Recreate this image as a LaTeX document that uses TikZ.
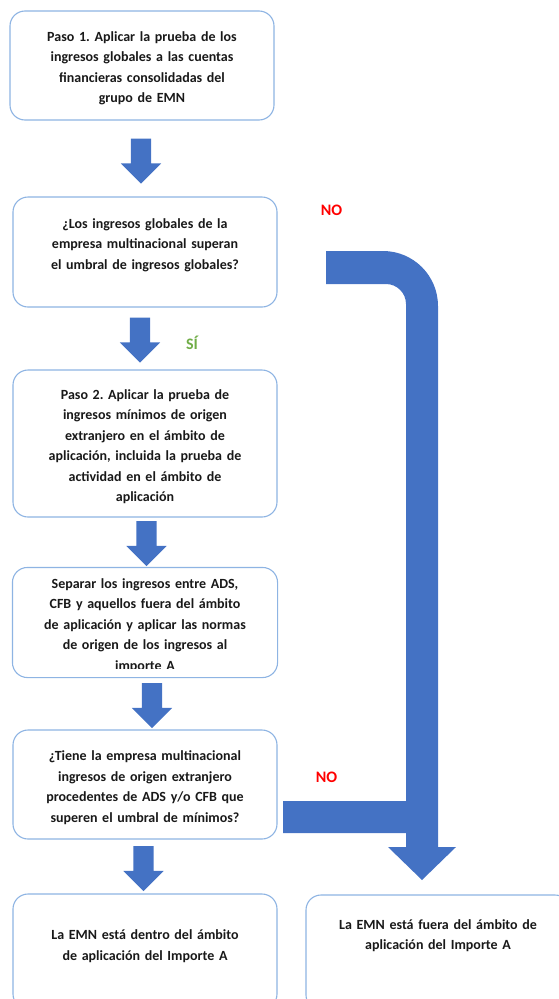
\documentclass[tikz,border=0pt]{standalone}
\usepackage{fontspec}
\setmainfont{Carlito}
\usetikzlibrary{shapes.arrows}
\frenchspacing

\definecolor{boxblue}{HTML}{8EB4E3}
\definecolor{arrowblue}{HTML}{4472C4}
\definecolor{nored}{HTML}{FF0000}
\definecolor{sigreen}{HTML}{70AD47}

\begin{document}
\begin{tikzpicture}[x=1pt, y=-1pt,
        box/.style={draw=boxblue, line width=1.1pt, rounded corners=15pt, fill=white,
            minimum width=264pt, minimum height=109pt, text width=240pt, align=center,
            inner sep=0pt, text=black!90,
            font=\fontsize{14}{20.5}\selectfont\bfseries,
            execute at end node=\endgraf\vspace*{-6pt}},
        downarrow/.style={single arrow, shape border rotate=270, fill=arrowblue,
            minimum width=40pt, minimum height=45pt, single arrow head extend=10pt,
            single arrow tip angle=90, inner sep=10pt},
        answer/.style={font=\fontsize{16}{19}\selectfont\bfseries}]
                    \useasboundingbox (0,0) rectangle (558,999);

                    % Steps
                    \node[box] (Step-1) at (142,65.5)
                        {Paso 1. Aplicar la prueba de los\\ingresos globales a las cuentas\\financieras consolidadas del\\grupo de EMN};
                    \node[box, minimum height=110pt] (Step-2) at (145,252)
                        {¿Los ingresos globales de la\\empresa multinacional superan\\el umbral de ingresos globales?\par\vspace*{20pt}};
                    \node[box, minimum height=147pt] (Step-3) at (145,443.5)
                        {Paso 2. Aplicar la prueba de\\ingresos mínimos de origen\\extranjero en el ámbito de\\aplicación, incluida la prueba de\\actividad en el ámbito de\\aplicación};
                    \begin{scope}
                        \clip (0,560) rectangle (558,668);
                        \node[box, draw=none] (Step-4) at (145,622.5)
                            {Separar los ingresos entre ADS,\\CFB y aquellos fuera del ámbito\\de aplicación y aplicar las normas\\de origen de los ingresos al\\importe A};
                    \end{scope}
                    \draw[boxblue, line width=1.1pt, rounded corners=15pt]
                        (Step-4.south west) rectangle (Step-4.north east);
                    \node[box] (Step-5) at (145,784.5)
                        {¿Tiene la empresa multinacional\\ingresos de origen extranjero\\procedentes de ADS y/o CFB que\\superen el umbral de mínimos?};

                    % Results
                    \node[box, minimum height=115pt] (Inside) at (145,951.5)
                        {La EMN está dentro del ámbito\\de aplicación del Importe A\par\vspace*{17pt}};
                    \node[box, minimum height=115pt] (Outside) at (438,952.5)
                        {La EMN está fuera del ámbito de\\aplicación del Importe A\par\vspace*{40pt}};

                    % Block arrows between the steps
                    \foreach \i/\x/\y in {1/141/156, 2/140/335, 3/146.5/538.5, 4/152/700.5, 5/143.5/863.5}
                    {
                        \node[downarrow] (Arrow-\i) at (\x,\y) {};
                    }

                    % Answers
                    \node[answer, text=nored] (No-1) at (331.5,210) {NO};
                    \node[answer, text=sigreen] (Si) at (192,343) {SÍ};
                    \node[answer, text=nored] (No-2) at (326.5,777) {NO};

                    % Bent arrow for the NO answers
                    \fill[arrowblue] (326,251) -- (383,251)
                        .. controls (413.4,251) and (438,275.6) .. (438,306)
                        -- (438,847) -- (456,847) -- (422,880) -- (388,847) -- (406,847)
                        -- (406,833) -- (283,833) -- (283,801) -- (406,801) -- (406,304)
                        .. controls (406,293) and (397,284) .. (386,284)
                        -- (326,284) -- cycle;
                \end{tikzpicture}
\end{document}
